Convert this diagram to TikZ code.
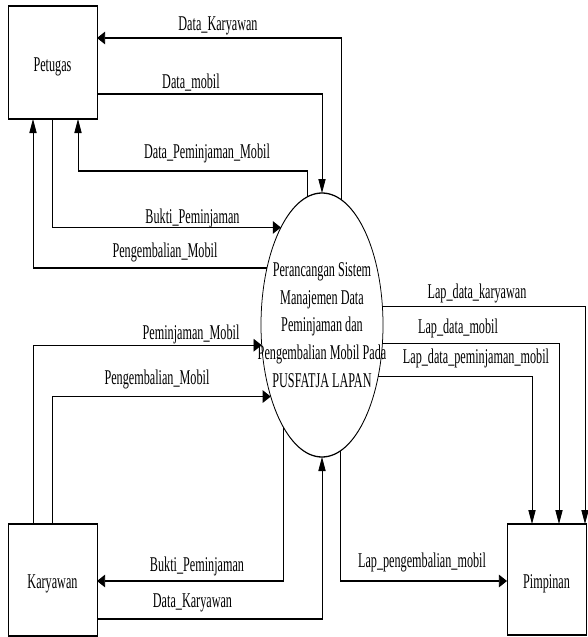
\documentclass[tikz,border=0pt]{standalone}
\usepackage{fontspec}
\setmainfont{Liberation Serif}
\usetikzlibrary{arrows.meta,shapes.geometric}
\begin{document}
\begin{tikzpicture}
\useasboundingbox (0pt,0pt) rectangle (587pt,-637pt);
\begin{scope}[transform canvas={xscale=0.58}, x=1.72414pt, y=-1pt,
  every node/.style={font=\fontsize{21}{27.8}\selectfont, inner sep=0pt, outer sep=0pt},
  box/.style={draw, rectangle, line width=1.3pt, text height=17pt, text depth=0pt},
  proc/.style={draw, ellipse, line width=1.3pt, minimum width=210.34pt, minimum height=264pt},
  flow/.style={line width=1.3pt, -{Triangle[length=14pt,width=12.5pt]}},
  lbl/.style={anchor=base}]
% entities and process
\node[box, minimum width=153.45pt, minimum height=113pt] (Petugas) at (52.5,62.5) {Petugas};
\node[box, minimum width=153.45pt, minimum height=112pt] (Karyawan) at (52.5,580) {Karyawan};
\node[box, minimum width=136.2pt, minimum height=111pt] (Pimpinan) at (546.5,579.5) {Pimpinan};
\node[proc] (proc) at (322,325) {};
\node[align=center] (proctext) at (proc.center) {Perancangan Sistem\\Manajemen Data\\Peminjaman dan\\Pengembalian Mobil Pada\\PUSFATJA LAPAN};
% flows with Petugas
\draw[flow] (proc.75.36) |- (Petugas.east |- 0,38);
\draw[flow] (Petugas.east |- 0,94) -| (proc.north);
\draw[flow] (proc.101.43) |- (78,171) -- (Petugas.south -| 78,0);
\draw[flow] (Petugas.south -| 52,0) |- (proc.126.94);
\draw[flow] (proc.149) -| (Petugas.south -| 33,0);
% flows to Pimpinan
\draw[flow] (proc.10.89) -| (Pimpinan.north -| 585,0);
\draw[flow] (proc.-10.35) -| (Pimpinan.north -| 559,0);
\draw[flow] (proc.-28.27) -| (Pimpinan.north -| 532,0);
\draw[flow] (proc.-76.98) |- (Pimpinan.west |- 0,581);
% flows with Karyawan
\draw[flow] (Karyawan.north -| 33,0) |- (proc.191.98);
\draw[flow] (Karyawan.north -| 52,0) |- (proc.219.8);
\draw[flow] (proc.237.61) |- (Karyawan.east |- 0,581);
\draw[flow] (Karyawan.east |- 0,619) -| (proc.south);
% labels
\node[lbl] (l1) at (218,30) {Data\_Karyawan};
\node[lbl] (l2) at (191,88) {Data\_mobil};
\node[lbl] (l3) at (207,158) {Data\_Peminjaman\_Mobil};
\node[lbl] (l4) at (192.5,223) {Bukti\_Peminjaman};
\node[lbl] (l5) at (165,257) {Pengembalian\_Mobil};
\node[lbl] (l6) at (477,298) {Lap\_data\_karyawan};
\node[lbl] (l7) at (458,333) {Lap\_data\_mobil};
\node[lbl] (l8) at (476,363) {Lap\_data\_peminjaman\_mobil};
\node[lbl] (l9) at (422,567) {Lap\_pengembalian\_mobil};
\node[lbl] (l10) at (191,339) {Peminjaman\_Mobil};
\node[lbl] (l11) at (157,384) {Pengembalian\_Mobil};
\node[lbl] (l12) at (197,571) {Bukti\_Peminjaman};
\node[lbl] (l13) at (192.5,607) {Data\_Karyawan};
\end{scope}
\end{tikzpicture}
\end{document}
